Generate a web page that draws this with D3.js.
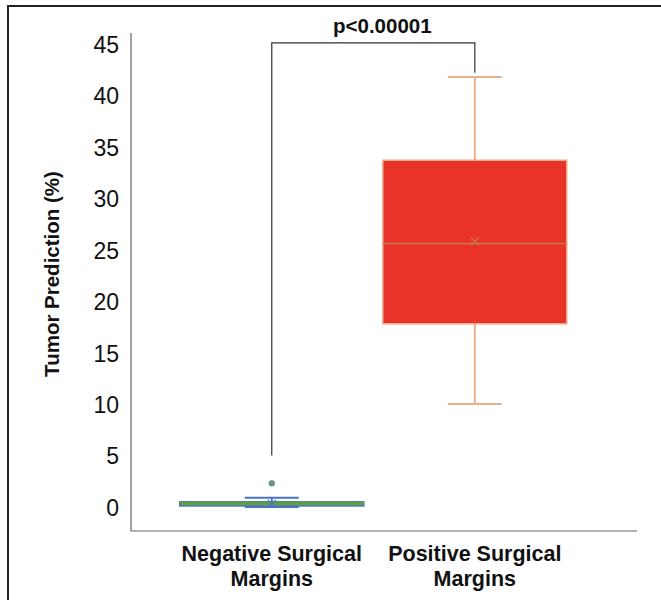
<!DOCTYPE html>
<html>
<head>
<meta charset="utf-8">
<script src="https://cdn.jsdelivr.net/npm/d3@7"></script>
<style>
  body { margin: 0; background: #fff; }
  text { font-family: "Liberation Sans", Arial, sans-serif; fill: #111; }
</style>
</head>
<body>
<svg width="661" height="600"></svg>
<script>
// box plot summary values
var categories = ['Negative Surgical Margins', 'Positive Surgical Margins'];
var labelLines = [['Negative Surgical', 'Margins'], ['Positive Surgical', 'Margins']];
var whiskerLow = [0.1, 10.1];
var q1 = [0.2, 17.9];
var median = [0.45, 25.7];
var q3 = [0.6, 33.8];
var whiskerHigh = [1.0, 41.9];
var means = [0.4, 25.9];
var outliers = [[2.4], []];
var yTicks = [0, 5, 10, 15, 20, 25, 30, 35, 40, 45];
var pText = 'p<0.00001';
var bracketTop = 45.2, bracketLegs = [5.1, 42.3];

var fills = ['#6fa64a', '#e8322a'];
var strokes = ['#4a72c6', '#e9b08c'];
var medColors = ['#5f9e3c', '#c67a44'];

var data = categories.map((c, i) => ({
  name: c, lines: labelLines[i], lo: whiskerLow[i], q1: q1[i], med: median[i],
  q3: q3[i], hi: whiskerHigh[i], mean: means[i], out: outliers[i],
  fill: fills[i], stroke: strokes[i], medColor: medColors[i]
}));

var svg = d3.select('svg');

// outer frame (only left + top edges show)
svg.append('path')
  .attr('d', 'M8,600 V6 H661')
  .attr('fill', 'none')
  .attr('stroke', '#222')
  .attr('stroke-width', 2);

var x = d3.scaleBand()
  .domain(categories)
  .range([131, 637])
  .paddingInner(0.094)
  .paddingOuter(0.293)
  .align(0.41);

var y = d3.scaleLinear().domain([0, 45]).range([508, 45]);

// axis lines
svg.append('path')
  .attr('d', 'M131,33 V531 H637')
  .attr('fill', 'none')
  .attr('stroke', '#666')
  .attr('stroke-width', 1.2);

// y tick labels only
var yAxis = d3.axisLeft(y).tickValues(yTicks).tickSize(0).tickPadding(12);
var ya = svg.append('g').attr('transform', 'translate(131,0)').call(yAxis);
ya.select('.domain').remove();
ya.selectAll('text')
  .style('font-size', '23px')
  .style('font-family', '"Liberation Sans", Arial, sans-serif')
  .attr('fill', '#111');

// y title
svg.append('text')
  .attr('transform', 'translate(59,274) rotate(-90)')
  .attr('text-anchor', 'middle')
  .style('font-size', '20.5px')
  .style('font-weight', 'bold')
  .text('Tumor Prediction (%)');

// category labels
var cl = svg.selectAll('.cat').data(data).enter().append('text')
  .attr('class', 'cat')
  .attr('text-anchor', 'middle')
  .attr('x', d => x(d.name) + x.bandwidth() / 2)
  .attr('y', 561)
  .style('font-size', '21.5px')
  .style('font-weight', 'bold');
cl.selectAll('tspan').data(d => d.lines).enter().append('tspan')
  .attr('x', function() { return d3.select(this.parentNode).attr('x'); })
  .attr('dy', (d, i) => i ? 25 : 0)
  .text(d => d);

// boxes
var bw = x.bandwidth();
var capW = 54;
var g = svg.selectAll('.box').data(data).enter().append('g')
  .attr('class', 'box')
  .attr('transform', d => `translate(${x(d.name) + bw / 2},0)`);

// whiskers
g.append('line')
  .attr('x1', 0).attr('x2', 0)
  .attr('y1', d => y(d.hi)).attr('y2', d => y(d.q3))
  .attr('stroke', d => d.stroke).attr('stroke-width', 2);
g.append('line')
  .attr('x1', 0).attr('x2', 0)
  .attr('y1', d => y(d.lo)).attr('y2', d => y(d.q1))
  .attr('stroke', d => d.stroke).attr('stroke-width', 2);
g.append('line')
  .attr('x1', -capW / 2).attr('x2', capW / 2)
  .attr('y1', d => y(d.hi)).attr('y2', d => y(d.hi))
  .attr('stroke', d => d.stroke).attr('stroke-width', 2);
g.append('line')
  .attr('x1', -capW / 2).attr('x2', capW / 2)
  .attr('y1', d => y(d.lo)).attr('y2', d => y(d.lo))
  .attr('stroke', d => d.stroke).attr('stroke-width', 2);

g.append('rect')
  .attr('x', -bw / 2)
  .attr('width', bw)
  .attr('y', d => y(d.q3))
  .attr('height', d => Math.max(y(d.q1) - y(d.q3), 1))
  .attr('fill', d => d.fill)
  .attr('stroke', d => d.stroke)
  .attr('stroke-width', 1.5);

g.append('line')
  .attr('x1', -bw / 2).attr('x2', bw / 2)
  .attr('y1', d => y(d.med)).attr('y2', d => y(d.med))
  .attr('stroke', d => d.medColor).attr('stroke-width', (d, i) => i ? 1.5 : 3);

// mean markers (x)
g.append('path')
  .attr('d', d => {
    var cy = y(d.mean), s = 4;
    return `M${-s},${cy - s}L${s},${cy + s}M${-s},${cy + s}L${s},${cy - s}`;
  })
  .attr('stroke', (d, i) => i ? d.medColor : d.stroke)
  .attr('stroke-width', 1.3)
  .attr('fill', 'none');

// outliers
g.selectAll('.out').data(d => d.out.map(v => ({v: v, d: d}))).enter().append('circle')
  .attr('class', 'out')
  .attr('cx', 0)
  .attr('cy', o => y(o.v))
  .attr('r', 2.8)
  .attr('fill', o => o.d.fill)
  .attr('stroke', o => o.d.stroke)
  .attr('stroke-width', 0.8);

// significance bracket
var cx0 = x(categories[0]) + bw / 2, cx1 = x(categories[1]) + bw / 2;
svg.append('path')
  .attr('d', `M${cx0},${y(bracketLegs[0])} V${y(bracketTop)} H${cx1} V${y(bracketLegs[1])}`)
  .attr('fill', 'none')
  .attr('stroke', '#333')
  .attr('stroke-width', 1.2);
svg.append('text')
  .attr('x', (cx0 + cx1) / 2 + 9)
  .attr('y', 33)
  .attr('text-anchor', 'middle')
  .style('font-size', '20.5px')
  .style('font-weight', 'bold')
  .text(pText);
</script>
</body>
</html>
